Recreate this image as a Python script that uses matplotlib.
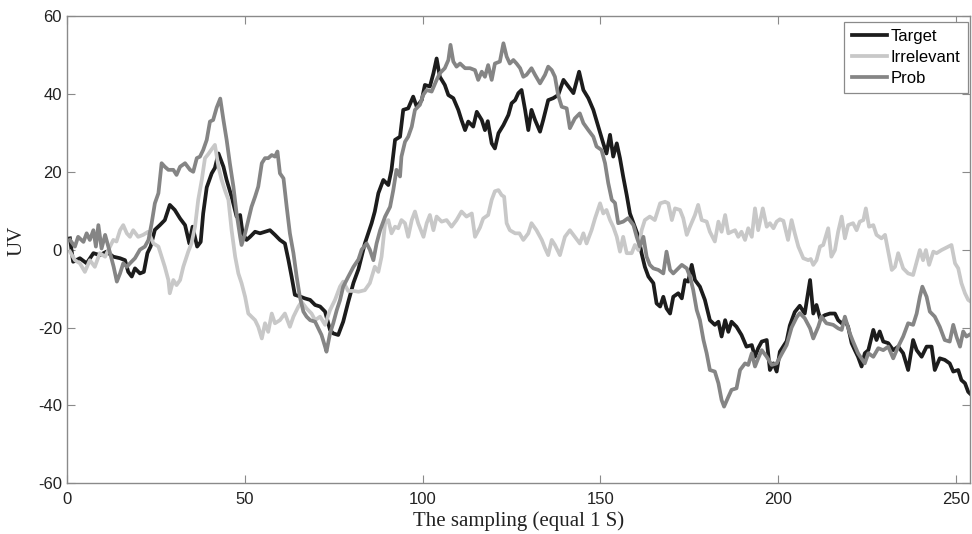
import matplotlib
matplotlib.use("Agg")
import matplotlib.pyplot as plt

# -----------------------------
# Data
# -----------------------------
target_x = [0.7, 1.6, 3.5, 5.4, 7.3, 9.1, 11, 12.9, 14.8, 16.2, 17.1, 18.1, 19, 20.4, 21.5,
            22.5, 23.4, 24.6, 26, 27.4, 28.8, 30.2, 31.7, 33.1, 34.3, 35.2, 36.5, 37.5, 38.2,
            39.2, 40.6, 41.5, 42.5, 43.9, 44.8, 46.2, 47.6, 48.6, 49.3, 50.4, 51.4, 52.8, 54.2,
            55.6, 57, 58.4, 59.8, 61.2, 62.2, 63.1, 64, 65.4, 66.8, 68.3, 69.7, 71.1, 72.5,
            73.9, 74.8, 76.2, 77.6, 79, 80.5, 81.9, 83.7, 85.6, 86.5, 87.5, 88.9, 90.3, 91.2,
            92.2, 93.6, 94.5, 95.9, 97.3, 98.3, 99.7, 100.6, 102, 103, 103.9, 104.8, 106.2,
            107.2, 108.6, 110, 110.9, 111.9, 112.8, 114.2, 115.2, 116.6, 117.5, 118.3, 119.4,
            120.3, 121.3, 122.7, 124.1, 125, 126, 126.9, 127.8, 128.8, 129.7, 130.6, 131.6,
            133, 133.9, 135.3, 136.7, 138.1, 139.6, 141, 142.4, 144, 145.2, 146.6, 148, 149.4,
            150.8, 151.7, 152.7, 153.6, 154.6, 155.5, 156.4, 157.4, 158.3, 159.3, 160.7, 161.6,
            162.5, 163.5, 164.9, 165.8, 166.8, 167.7, 168.6, 169.6, 170.5, 171.9, 172.9, 173.8,
            174.7, 175.7, 176.6, 178, 179.4, 180.8, 182.2, 183.2, 184.1, 185.1, 186, 186.9,
            188.3, 189.7, 191.1, 192.6, 193.5, 194.4, 195.4, 196.8, 197.7, 198.7, 199.6, 200.5,
            202.4, 203.3, 204.7, 206.1, 207.5, 209, 209.9, 210.8, 211.8, 213.2, 214.6, 216,
            216.9, 217.9, 218.8, 219.7, 220.7, 221.6, 222.5, 223.5, 224.4, 225.4, 226.8, 227.7,
            228.6, 229.6, 231, 232.4, 233.8, 235.2, 236.6, 238, 239, 240.4, 241.8, 243.2, 244.1,
            245.5, 246.9, 248.3, 249.3, 250.7, 251.6, 252.6, 253.5, 254.5]
target_y = [2.9, -3.1, -2.2, -3.5, -0.9, -1.4, -0.5, -1.8, -2.2, -2.7, -5.7, -6.9, -4.8, -6.1,
            -5.7, -0.9, 0.8, 5.1, 6.3, 7.6, 11.5, 10.2, 8, 6.3, 1.6, 5.9, 0.8, 2, 9.3, 16, 19.6,
            21, 24.7, 21.3, 17.9, 13.6, 8.5, 8.9, 4.2, 2.5, 3.3, 4.6, 4.2, 4.6, 5, 3.8, 2.5, 1.6,
            -2.7, -7, -11.6, -12, -12.5, -12.9, -14.2, -14.6, -15.9, -20.6, -21.5, -21.9, -18.5,
            -13.5, -8.5, -5, 1.6, 6.8, 9.8, 14.5, 17.9, 16.6, 20.5, 28.2, 29, 35.9, 36.3, 39.3,
            36.7, 38.4, 42.3, 41.9, 45.3, 49.1, 44.4, 42.3, 39.7, 38.9, 35.9, 33.3, 30.7, 32.9,
            31.6, 35.4, 33.3, 30.7, 33, 27.3, 26, 29.9, 32, 34.6, 37.6, 38.4, 40.2, 41, 35.9,
            30.7, 35.9, 33.3, 30.3, 33.3, 38.4, 38.9, 39.7, 43.6, 41.9, 40.2, 45.7, 41, 38.9,
            35.9, 31.6, 27.3, 24.7, 29.5, 23.9, 27.3, 23.5, 18.8, 14, 9.3, 6.8, 3.3, -1, -4.4,
            -6.9, -8.6, -13.8, -14.6, -12.1, -15.1, -16.4, -12.1, -11.2, -12.5, -7.8, -8.2,
            -3.9, -7.8, -9.5, -12.9, -18.1, -19.3, -18.5, -22.3, -18.1, -21.1, -18.5, -19.8,
            -21.9, -24.9, -24.5, -27.5, -25.3, -23.6, -23.2, -30.9, -29.2, -31.3, -26.2, -23.5,
            -19.5, -16, -14.4, -16.4, -7.8, -16.4, -14.2, -17.6, -16.8, -16.4, -16.4, -18.1,
            -18.9, -18.1, -19.8, -24, -25.8, -27.5, -30, -26.6, -25.8, -20.6, -23.2, -21, -23.6,
            -24, -25.8, -24.9, -26.6, -30.9, -23.2, -25.8, -27.5, -24.9, -24.9, -30.9, -27.9,
            -28.3, -29.2, -31.3, -30.9, -33.5, -34.3, -36.5, -37.4]

irrelevant_x = [0.7, 2.1, 3.5, 4.9, 6.3, 7.7, 9.1, 10.6, 12, 12.9, 13.8, 14.8, 15.7, 16.7, 17.6,
                18.5, 19.9, 21.3, 22.7, 24.2, 25.6, 26.5, 27.4, 28.4, 28.8, 29.8, 30.7, 31.7,
                32.6, 34, 34.9, 35.9, 36.8, 37.8, 38.7, 39.6, 40.6, 41.5, 42.5, 43.4, 44.3, 45.3,
                46.2, 47.2, 48.1, 49, 50, 50.9, 51.8, 52.8, 53.7, 54.7, 55.6, 56.5, 57.5, 58.4,
                59.8, 61.2, 62.6, 63.6, 65, 65.9, 67.3, 68.7, 69.7, 71.1, 72.5, 73.9, 75.3, 76.7,
                77.6, 79, 80.5, 81.9, 83.7, 85.1, 86.5, 87.5, 88.4, 89.4, 90.3, 91.2, 92.2, 93.1,
                94, 95, 95.9, 96.9, 97.8, 98.7, 100.2, 101.1, 102, 103, 103.9, 105.3, 106.7,
                108.1, 109.5, 110.9, 112.3, 113.8, 114.7, 116.1, 117, 118.4, 119.4, 120.3, 121.3,
                122.2, 122.9, 123.6, 124.5, 126, 127.2, 128.3, 129.7, 130.6, 132, 133.5, 134.4,
                135.3, 136.3, 137.2, 138.6, 140, 141.4, 142.8, 144.2, 145.2, 146.1, 147.5, 148.5,
                149.9, 150.8, 151.7, 152.7, 153.6, 154.6, 155.5, 156.4, 157.4, 158.8, 159.7,
                160.7, 161.6, 162.5, 163.9, 165.3, 166.8, 168.2, 169.1, 170.1, 171, 172.4, 173.3,
                174.3, 175.2, 176.6, 177.5, 178.5, 179.9, 180.8, 182.2, 183.2, 184.1, 185.1, 186,
                186.9, 187.9, 188.8, 189.7, 190.7, 191.6, 192.6, 193.5, 194.4, 195.7, 196.8,
                197.7, 198.7, 199.6, 200.5, 201.5, 202.8, 203.8, 204.7, 205.7, 207.1, 208.5,
                209.2, 209.9, 210.8, 211.8, 212.7, 214.1, 215, 216, 216.9, 217.9, 218.8, 219.7,
                221.1, 222.1, 223, 224, 224.7, 225.6, 226.8, 227.7, 229.1, 230.1, 231, 232, 232.9,
                233.8, 235.2, 236.6, 238, 239, 239.9, 240.8, 241.6, 242.5, 243.7, 244.6, 246,
                247.9, 248.8, 249.8, 250.7, 251.6, 252.6, 253.5, 254.5]
irrelevant_y = [-0.5, -2.7, -3.5, -5.7, -2.7, -4.4, -0.9, -1.8, 0.8, 2.5, 2.1, 5, 6.3, 4.2, 3.3,
                5, 3.3, 3.8, 4.6, 1.6, 0.8, -1.8, -4.4, -7.8, -11.2, -7.8, -9.1, -7.8, -4.4,
                -0.5, 1.6, 5.9, 12.8, 17.9, 23.5, 24.5, 25.8, 26.9, 21.3, 17.9, 15.3, 12.8, 5,
                -1.8, -6.1, -8.6, -12.1, -16.4, -17.2, -18.1, -19.8, -22.8, -18.9, -21.1, -16.4,
                -18.9, -18.1, -16.4, -19.8, -17.2, -14.6, -13.4, -15.1, -16.4, -18.1, -17.2,
                -19.3, -15.5, -12.9, -9.5, -8.2, -10.6, -10.6, -10.8, -10.4, -8.6, -4.4, -5.7,
                -1.8, 6.8, 7.6, 4.2, 5.9, 5.5, 7.6, 6.8, 3.3, 7.6, 9.8, 6.8, 3.3, 6.8, 8.9, 5,
                8.5, 7.2, 7.6, 5.9, 7.6, 9.8, 8.5, 9.3, 3.3, 5.7, 8, 8.9, 12.8, 15, 15.3, 14,
                13.6, 6.8, 5, 4.2, 4.2, 2.5, 4.2, 6.8, 5, 2.5, 0.4, -1.4, 2.5, 1.2, -1.4, 3.3,
                5, 3.3, 1.6, 4.2, 1.6, 5, 8.1, 11.9, 9.3, 10.2, 7.6, 5.9, 3.3, -0.5, 3.3, -0.9,
                -0.9, 1.2, -0.1, 5, 7.6, 8.5, 7.6, 11.9, 12.3, 11.9, 7.6, 10.6, 10.2, 8.1, 3.8,
                5.9, 8.9, 11.5, 7.6, 7.2, 4.6, 2.1, 7.2, 4.6, 8.9, 4.2, 4.6, 5, 3.3, 4.6, 2.5,
                5.5, 3.3, 10.6, 5, 10.6, 5.9, 6.8, 5.5, 7.2, 7.8, 7.4, 2.5, 7.6, 4.2, 0.8, -2.2,
                -2.7, -2.4, -3.9, -2.7, 0.8, 1.2, 5.5, -1.8, -0.1, 4.6, 8.5, 2.9, 6.3, 6.8, 5,
                7.2, 7.6, 10.6, 5.9, 6.3, 3.8, 2.9, 3.8, -0.5, -5.2, -4.4, -0.9, -4.8, -6.1,
                -6.5, -3.1, -0.1, -2.7, -0.1, -3.9, -0.5, -0.9, -0.1, 0.8, 1.2, -3.5, -4.8,
                -8.6, -11.2, -12.9, -13.5]

prob_x = [0.7, 2.1, 3, 4.5, 5.4, 6.3, 7.3, 8, 8.7, 9.6, 10.6, 12, 13, 13.9, 14.8, 15.7, 16.7,
          17.6, 19, 20.4, 21.8, 22.8, 23.7, 24.6, 25.6, 26.5, 27.4, 28.4, 29.8, 30.7, 31.7,
          33.1, 34.5, 35.4, 36.4, 37.3, 38.2, 39.2, 40.1, 41, 42, 43, 43.9, 44.8, 45.7, 46.7,
          47.6, 48.6, 49, 50, 50.9, 51.8, 52.8, 53.7, 54.7, 55.6, 56.5, 57.5, 58.4, 59.1, 59.8,
          60.8, 61.7, 62.6, 63.6, 64.5, 65.4, 66.4, 67.3, 68.3, 69.7, 70.6, 71.5, 72.5, 72.9,
          73.9, 74.8, 75.8, 76.7, 77.6, 79, 80.5, 81.9, 82.8, 84.2, 85.1, 86.1, 87, 88, 89.4,
          90.8, 91.7, 92.6, 93.6, 94, 95, 95.9, 96.9, 97.8, 99.2, 100.1, 101.1, 102.5, 103.9,
          104.8, 106.2, 107.2, 107.8, 108.6, 109.5, 110.5, 111.9, 113.3, 114.7, 115.6, 116.6,
          117.5, 118.4, 119.4, 120.3, 121.7, 122.7, 123.6, 124.5, 125.5, 126.4, 127.4, 128.3,
          129.2, 130.6, 131.6, 133, 134.4, 135.3, 136.3, 137.2, 138.1, 139.1, 140.5, 141.4,
          142.8, 144.2, 145.2, 146.6, 148, 148.9, 150.3, 151.3, 152.2, 153.2, 154.1, 155,
          156.4, 157.8, 159.3, 160.2, 161.1, 162.1, 163, 163.9, 164.9, 166.3, 167.7, 168.6,
          169.6, 170.5, 171.9, 172.9, 174.3, 175.2, 176.1, 177.1, 178, 179, 179.9, 180.8,
          182.2, 183.2, 184.1, 184.8, 186, 186.9, 188.3, 189.3, 190.7, 191.6, 192.6, 193.5,
          194.4, 195.4, 196.8, 198.2, 199.6, 201, 202.4, 203.8, 205.2, 206.1, 207.5, 209,
          209.9, 211.3, 212.2, 213.6, 215.5, 216.9, 217.9, 218.8, 220.2, 221.1, 222.5, 224.4,
          225.4, 226.8, 228.2, 229.6, 231, 232.4, 233.8, 235.2, 236.6, 238, 239, 239.9, 240.6,
          241.8, 242.7, 244.1, 245.5, 246.9, 248.3, 249.3, 250.2, 251.2, 252.1, 253, 254.5]
prob_y = [2.5, 0.8, 3.3, 2, 4.2, 2.5, 5, 0.8, 6.3, 0.3, 3.8, -0.9, -4.4, -8.2, -6.1, -3.5, -4.4,
          -3.5, -2.2, 0, 0.8, 2.5, 6.8, 11.9, 14.5, 22.2, 21.3, 20.5, 20.5, 19.2, 21.3, 22.2,
          20.5, 20, 23.5, 23.9, 25.6, 28.2, 32.9, 33.3, 36.5, 38.8, 33.3, 28.2, 22.2, 16.2, 9.3,
          3.3, 1.2, 4.2, 7.6, 11, 13.6, 16.2, 22.2, 23.5, 23.5, 24.3, 23.9, 25.2, 19.6, 18.3,
          11, 4.2, -0.9, -6.9, -12.1, -15.9, -17.2, -18.1, -18.5, -20.2, -21.9, -24.9, -26.2,
          -21.5, -18.9, -15.5, -13, -9.5, -7, -4.4, -2.5, 0, 1.6, 0, -2.7, 1.6, 5, 8.5, 11,
          15.3, 20.5, 18.8, 23.9, 27.7, 29, 31.6, 35.9, 37.2, 39.7, 41, 40.6, 43.6, 45.3, 46.6,
          48.7, 52.6, 48.3, 47, 47.8, 46.6, 46.6, 46.1, 43.6, 45.7, 44.4, 47.4, 43.6, 47.8,
          48.3, 53, 49.6, 47.8, 48.7, 47.8, 46.6, 44.4, 44.9, 46.6, 44.9, 42.7, 44.9, 47, 46.1,
          44.4, 39.7, 36.7, 36.3, 31.2, 33.7, 35, 32.5, 30.7, 29, 26.5, 25.6, 22.2, 17.1, 12.8,
          12, 6.8, 7.2, 8.1, 6.3, 3.3, 0.8, 3.3, -1.8, -3.9, -4.8, -5.2, -6.1, -0.5, -5.2,
          -6.1, -4.8, -3.9, -4.8, -6.9, -10.3, -15.5, -18.1, -23.2, -26.6, -30.9, -31.3, -34.3,
          -38.6, -40.3, -37.8, -36, -35.6, -30.9, -29.2, -29.6, -26.6, -30, -27.9, -25.8,
          -27.5, -29.6, -29.2, -26.8, -24.5, -20, -17.4, -16.3, -17.6, -20.2, -22.8, -19.8,
          -17.2, -18.9, -19.3, -20.2, -20.6, -17.2, -21.5, -23.6, -26.6, -29.2, -26.6, -27.5,
          -25.3, -25.8, -24.9, -27.9, -24.9, -22.3, -18.9, -19.3, -16.4, -12.1, -9.5, -12.1,
          -15.9, -17.2, -19.8, -23.2, -23.6, -19.3, -22.3, -24.9, -21, -22.3, -21.5]

x_ticks = [0, 50, 100, 150, 200, 250]
y_ticks = [-60, -40, -20, 0, 20, 40, 60]

# -----------------------------
# Figure
# -----------------------------
plt.rcParams['font.family'] = ['Liberation Sans', 'DejaVu Sans']
plt.rcParams['axes.unicode_minus'] = False

fig = plt.figure(figsize=(9.72, 5.34), dpi=100)
ax = fig.add_axes([0.0694, 0.0949, 0.9285, 0.8751])

lw = 2.7
ax.plot(target_x, target_y, color='#1c1c1c', lw=lw, label='Target')
ax.plot(irrelevant_x, irrelevant_y, color='#c8c8c8', lw=lw, label='Irrelevant')
ax.plot(prob_x, prob_y, color='#858585', lw=lw, label='Prob')

ax.set_xlim(0, 254)
ax.set_ylim(-60, 60)
ax.set_xticks(x_ticks)
ax.set_yticks(y_ticks)

axis_gray = '#8a8a8a'
for sp in ax.spines.values():
    sp.set_color(axis_gray)
    sp.set_linewidth(1.0)
ax.tick_params(direction='in', length=6, width=0.8, color=axis_gray,
               top=True, right=True, labelsize=12, labelcolor='#222222')
ax.tick_params(axis='x', pad=6)
ax.tick_params(axis='y', pad=4)

ax.set_xlabel('The sampling (equal 1 S)', family='Liberation Serif', fontsize=15,
              color='#222222', labelpad=3)
ax.set_ylabel('UV', family='Liberation Serif', fontsize=15, color='#222222')
ax.yaxis.set_label_coords(-0.045, 0.52)

leg = ax.legend(loc='upper right', bbox_to_anchor=(0.998, 0.988), fontsize=12,
                fancybox=False, framealpha=1, edgecolor=axis_gray, handlelength=2.1,
                handletextpad=0.25, labelspacing=0.35, borderpad=0.45, borderaxespad=0)
leg.get_frame().set_linewidth(0.9)

fig.savefig('out.png', dpi=100)
